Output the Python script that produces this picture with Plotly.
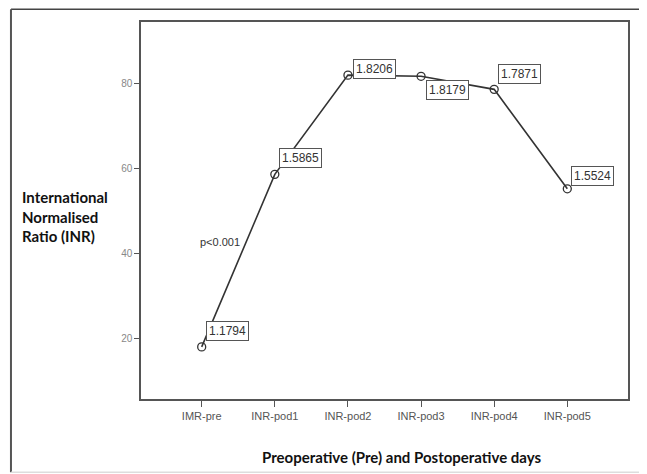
import plotly.graph_objects as go

categories = ["IMR-pre", "INR-pod1", "INR-pod2", "INR-pod3", "INR-pod4", "INR-pod5"]
inr_values = [1.1794, 1.5865, 1.8206, 1.8179, 1.7871, 1.5524]
value_labels = ["1.1794", "1.5865", "1.8206", "1.8179", "1.7871", "1.5524"]
y_tick_vals = [1.2, 1.4, 1.6, 1.8]
y_tick_text = ["20", "40", "60", "80"]

# label offsets (pixels) for each value box
label_xshift = [4, 4, 5, 5, 4, 4]
label_yshift = [16, 16, 6, -14, 15, 13]

x_idx = list(range(len(categories)))

fig = go.Figure()
fig.add_trace(go.Scatter(
    x=x_idx, y=inr_values, mode="lines+markers",
    line=dict(color="#333333", width=1.6),
    marker=dict(symbol="circle-open", size=8, color="#333333", line=dict(width=1.3)),
    showlegend=False, hoverinfo="skip",
))

annotations = []
for i, (v, t) in enumerate(zip(inr_values, value_labels)):
    annotations.append(dict(
        x=x_idx[i], y=v, xref="x", yref="y", text=t, showarrow=False,
        xanchor="left", yanchor="middle",
        xshift=label_xshift[i], yshift=label_yshift[i],
        font=dict(family="Liberation Sans, Arial", size=12, color="#333333"),
        bordercolor="#555555", borderwidth=1, borderpad=2, bgcolor="white",
    ))

annotations.append(dict(
    x=0.25, y=1.428, xref="x", yref="y", text="p<0.001", showarrow=False,
    font=dict(family="Liberation Sans, Arial", size=11, color="#333333"),
))
annotations.append(dict(
    x=-0.248, y=0.483, xref="paper", yref="paper", xanchor="left", yanchor="middle",
    align="left", showarrow=False,
    text="<b>International<br>Normalised<br>Ratio (INR)</b>",
    font=dict(family="Lato, Open Sans", size=15, color="#111111"),
))
annotations.append(dict(
    x=0.535, y=-0.155, xref="paper", yref="paper", xanchor="center", yanchor="middle",
    showarrow=False,
    text="<b>Preoperative (Pre) and Postoperative days</b>",
    font=dict(family="Lato, Open Sans", size=15, color="#111111"),
))

shapes = [
    # outer frame
    dict(type="line", xref="paper", yref="paper", x0=-0.267, x1=1.1, y0=1.034, y1=1.034,
         line=dict(color="#444444", width=1.5)),
    dict(type="line", xref="paper", yref="paper", x0=-0.267, x1=-0.267, y0=1.034, y1=-0.194,
         line=dict(color="#555555", width=2)),
    dict(type="line", xref="paper", yref="paper", x0=-0.267, x1=1.1, y0=-0.194, y1=-0.194,
         line=dict(color="#dddddd", width=1.5)),
]

fig.update_layout(
    width=639, height=466,
    margin=dict(l=133, r=19, t=14, b=75),
    paper_bgcolor="white", plot_bgcolor="white",
    annotations=annotations, shapes=shapes,
    xaxis=dict(
        range=[-0.83, 5.83], tickvals=x_idx, ticktext=categories,
        showline=True, linecolor="#555555", linewidth=1.5, mirror=True,
        ticks="outside", ticklen=6, tickcolor="#555555",
        showgrid=False, zeroline=False,
        tickfont=dict(family="Liberation Sans, Arial", size=11, color="#555555"),
    ),
    yaxis=dict(
        range=[1.0565, 1.946], tickvals=y_tick_vals, ticktext=y_tick_text,
        showline=True, linecolor="#555555", linewidth=1.5, mirror=True,
        ticks="outside", ticklen=5, tickcolor="#555555",
        showgrid=False, zeroline=False,
        tickfont=dict(family="Liberation Sans, Arial", size=10, color="#888888"),
    ),
)

fig.write_html("out.html")
